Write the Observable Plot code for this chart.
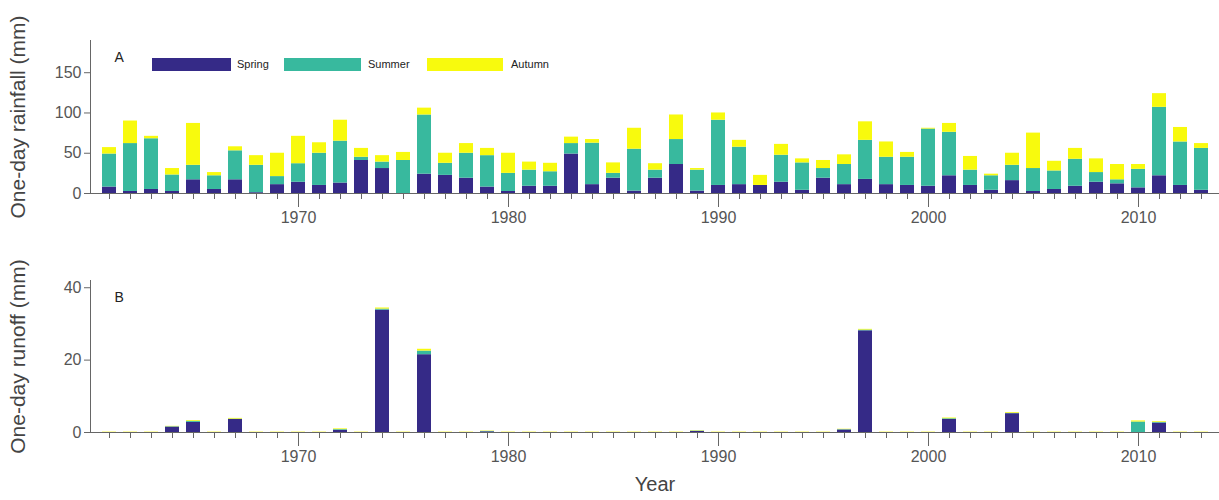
<!DOCTYPE html>
<html>
<head>
<meta charset="utf-8">
<script src="https://cdn.jsdelivr.net/npm/d3@7"></script>
<script src="https://cdn.jsdelivr.net/npm/@observablehq/plot@0.6"></script>
<style>
  body { margin: 0; background: #fff; font-family: "Liberation Sans", Arial, sans-serif; }
  #wrap { position: relative; width: 1219px; }
  .sw { position: absolute; top: 58px; height: 13px; }
  .lb { position: absolute; top: 58px; font-size: 11px; color: #222; }
</style>
</head>
<body>
<div id="wrap">
  <div id="chartA"></div>
  <div id="chartB"></div>
  <span class="sw" style="background:#352a87;left:152px;width:79px"></span><span class="lb" style="left:237px">Spring</span>
  <span class="sw" style="background:#38b99e;left:284px;width:77px"></span><span class="lb" style="left:368px">Summer</span>
  <span class="sw" style="background:#f8fa0d;left:427px;width:76px"></span><span class="lb" style="left:511px">Autumn</span>
</div>
<script>
const years = d3.range(1961, 2014)
const seasons = ["Spring", "Summer", "Autumn"]
const colors = ["#352a87", "#38b99e", "#f8fa0d"]

// cumulative tops (spring, spring+summer, total)
const rainSpringTop = [8,2.5,5,2.5,17,5,17,1,11,14,10,13,41,31,0,24,22.5,19,8,2.5,9,9,49,11,19,3,19,36,3,10,11,10,14,4,19,11,17.5,11,10,9,22,10,4,16,2.5,5,9,14,12,7,22,10,4]
const rainSummerTop = [49,62,68,23,35,22,53,35,21,37,50,65,45,39,41,97.5,37.5,50,47,25,29,27,62,62.5,25,55,29,67,29,91,57.5,10,47.5,38,31,36,66,45,45,80,76,29,22,35,31,28,42.5,26,17,30,107,64,56]
const rainAutumnTop = [57,90,71,31,87,26,58,47,50,71,63,91,56,47,51,106,50,62,56,50,39,37.5,70,67,38,81,37,97.5,31,100,66,22.5,61,43,41,48,89,64,51,81,87,46,24,50,75,40,56,43,36,36,124,82,62]

// runoff by season (mm)
const runSpring = [0,0,0,1.5,2.8,0,3.6,0,0,0,0,0.6,0,33.8,0,21.5,0,0,0.2,0,0,0,0,0,0,0,0,0,0.3,0,0,0,0,0,0,0.7,28.1,0,0,0,3.6,0,0,5.2,0,0,0,0,0,0,2.6,0,0]
const runSummer = [0,0,0,0.1,0.3,0,0.1,0,0,0,0,0.2,0,0.3,0,1.0,0,0,0.1,0,0,0,0,0,0,0,0,0,0.1,0,0,0,0,0,0,0.1,0.2,0,0,0,0.2,0,0,0.1,0,0,0,0,0,2.9,0.2,0,0]
const runAutumn = [0.1,0.1,0.1,0.1,0.2,0.1,0.2,0.1,0.1,0.1,0.1,0.2,0.1,0.3,0.1,0.5,0.1,0.1,0.1,0.1,0.1,0.1,0.1,0.1,0.1,0.1,0.1,0.1,0.1,0.1,0.1,0.1,0.1,0.1,0.1,0.1,0.2,0.1,0.1,0.1,0.2,0.1,0.1,0.2,0.1,0.1,0.1,0.1,0.1,0.3,0.2,0.1,0.1]

const rain = years.flatMap((y, i) => [
  {year: y, season: "Spring", v: rainSpringTop[i]},
  {year: y, season: "Summer", v: rainSummerTop[i] - rainSpringTop[i]},
  {year: y, season: "Autumn", v: rainAutumnTop[i] - rainSummerTop[i]}
])
const runoff = years.flatMap((y, i) => [
  {year: y, season: "Spring", v: runSpring[i]},
  {year: y, season: "Summer", v: runSummer[i]},
  {year: y, season: "Autumn", v: runAutumn[i]}
])

const decades = [1970, 1980, 1990, 2000, 2010]
const axisColor = "#666"

function panel(data, yDomain, yTicks, ylabel, letter, height, marginBottom, xlabel) {
  const marks = [
    Plot.barY(data, {x: "year", y: "v", fill: "season", order: seasons}),
    Plot.axisY({ticks: yTicks, tickSize: 6, label: null, stroke: axisColor}),
    Plot.text([ylabel], {frameAnchor: "left", dx: -72, rotate: -90, textAnchor: "middle", fontSize: 21, fill: "#444"}),
    Plot.axisX({tickFormat: () => "", tickSize: 6, stroke: axisColor, label: null}),
    Plot.axisX(decades, {tickFormat: d => String(d), tickSize: 14, tickPadding: 4, stroke: axisColor, fill: "#555", fontSize: 16, label: null}),
    Plot.ruleY([0], {stroke: axisColor}),
    Plot.frame({anchor: "left", stroke: axisColor}),
    Plot.text([letter], {frameAnchor: "top-left", dx: 24, dy: 12, fontSize: 14, fill: "#222"})
  ]
  if (xlabel) marks.push(Plot.text([xlabel], {frameAnchor: "bottom", dy: 58, fontSize: 20, fill: "#444"}))
  return Plot.plot({
    width: 1219, height,
    marginLeft: 90, marginRight: 0, marginTop: 40, marginBottom,
    style: {fontFamily: "Liberation Sans, Arial, sans-serif", fontSize: "16px", color: "#555", overflow: "visible"},
    x: {type: "band", domain: years, paddingInner: 0.34, paddingOuter: 0.1},
    y: {domain: yDomain},
    color: {domain: seasons, range: colors},
    marks
  })
}

d3.select("#chartA").append(() => panel(rain, [0, 190], [0, 50, 100, 150], "One-day rainfall (mm)", "A", 240, 47, null))
d3.select("#chartB").append(() => panel(runoff, [0, 42], [0, 20, 40], "One-day runoff (mm)", "B", 260, 68, "Year"))
</script>
</body>
</html>
